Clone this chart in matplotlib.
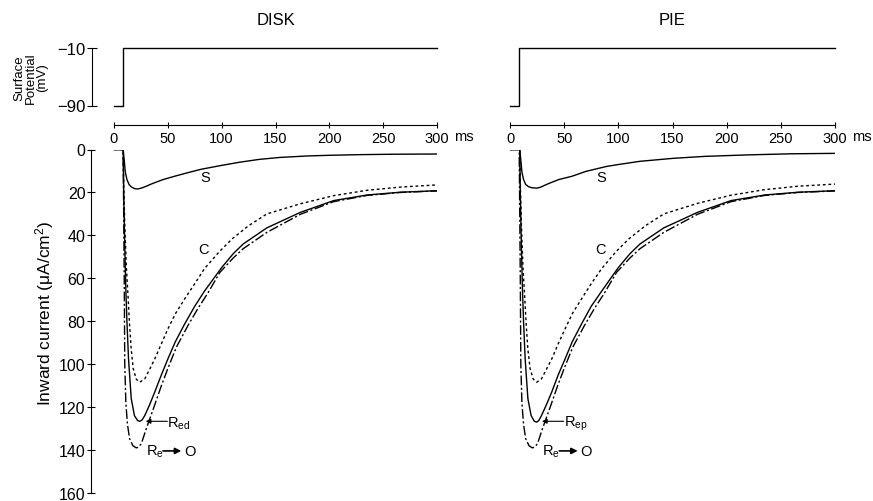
import matplotlib
matplotlib.use("Agg")
import matplotlib.pyplot as plt

plt.rcParams['font.family'] = ['Liberation Sans', 'DejaVu Sans']
plt.rcParams['mathtext.fontset'] = 'custom'
plt.rcParams['mathtext.rm'] = 'Liberation Sans'
plt.rcParams['mathtext.it'] = 'Liberation Sans'

# ---------------- data ----------------
panel_titles = ["DISK", "PIE"]
time_ticks = [0, 50, 100, 150, 200, 250, 300]
volt_ticks = [-90, -10]
curr_ticks = [0, 20, 40, 60, 80, 100, 120, 140, 160]

# voltage step (ms, mV)
volt_t = [0, 8.7, 8.7, 300]
volt_v = [-90, -90, -10, -10]

# DISK currents (uA/cm^2, inward plotted downwards)
disk_S_t = [0, 8.5, 9.5, 10.5, 12, 14, 16, 19, 22, 26, 30, 35, 45, 56, 70, 81, 100, 117, 135, 154, 180, 200, 228, 260, 300]
disk_S_v = [0, 0, 5, 10.5, 14, 16.3, 17.4, 18.2, 18.4, 17.9, 17.1, 16.0, 14.1, 12.5, 10.6, 9.2, 7.4, 5.9, 4.6, 3.7, 3.0, 2.7, 2.4, 2.2, 2.1]

disk_C_t = [0, 8.5, 9, 10, 11.5, 13, 14.5, 16, 17.8, 20.7, 23.8, 28.5, 33, 37.8, 44, 50, 57, 65.6, 75, 84, 98, 110, 125, 142, 173, 204, 235, 266, 300]
disk_C_v = [0, 0, 15, 35, 55, 68, 82, 93, 102, 107, 108.4, 106.9, 102.5, 97.6, 90.5, 83.6, 76.5, 69.6, 62.5, 55.5, 47.5, 41.5, 35.5, 30, 25.3, 21.5, 19.0, 17.5, 16.5]

disk_R_t = [0, 8.5, 9, 10, 11, 12, 13.5, 16, 19, 22, 24, 26, 28.5, 33, 37.8, 44, 50, 57, 65.6, 75, 84, 100, 110.8, 120, 142, 173, 204, 235, 266, 300]
disk_R_v = [0, 0, 20, 45, 65, 80, 97.6, 116, 124, 126.3, 126.6, 126, 124, 119, 113, 105, 97.6, 89.5, 81.3, 73, 66, 55, 48.5, 44, 36.5, 29.3, 23.8, 21.2, 19.9, 19.2]

disk_E_t = [0, 8.5, 9, 9.5, 10, 11, 12.5, 14.5, 17.6, 20.7, 23, 25.4, 30, 37.8, 44, 50, 58, 68.7, 78, 87, 98.4, 110.8, 120, 142, 173, 204, 235, 266, 300]
disk_E_v = [0, 0, 30, 60, 100, 118, 128, 134.8, 138, 139, 138.5, 137, 130, 119, 110, 102, 92, 82, 74, 67, 57.2, 50.5, 46.2, 38.6, 30.2, 24.3, 21.4, 20, 19.3]

# PIE currents
pie_S_t = [0, 9, 10, 11, 12.5, 14.5, 17, 20, 24.6, 28, 35, 45, 57, 70, 89, 100, 120, 151, 180, 220, 260, 300]
pie_S_v = [0, 0, 5, 10.5, 14, 16.3, 17.3, 17.8, 18.0, 17.6, 16.0, 14.0, 12.5, 10.2, 7.9, 7.0, 5.5, 4.1, 3.2, 2.5, 2.0, 1.8]

pie_C_t = [0, 9, 9.5, 10.5, 12, 13.5, 15, 16.5, 18.5, 21.5, 24.6, 29, 33.5, 38.5, 44.5, 50.8, 57.5, 66, 75, 84.6, 98, 110, 125, 142, 173, 204, 235, 266, 300]
pie_C_v = [0, 0, 15, 35, 55, 68, 82, 93, 102, 107, 108.4, 106.9, 102.5, 97.6, 90.5, 83.6, 76.5, 69.6, 62.5, 55.5, 47.5, 41.5, 35.5, 30, 25.1, 21.3, 18.7, 17.1, 16.1]

pie_R_t = [0, 9, 9.5, 10.5, 11.5, 12.5, 14, 16.5, 19.5, 22.5, 24.6, 26.5, 29, 33.5, 38.5, 44.5, 50.8, 57.5, 66, 75, 84.6, 100, 110.8, 120, 142, 173, 204, 235, 266, 300]
pie_R_v = [0, 0, 20, 45, 65, 80, 97.6, 116, 124, 126.6, 127, 126.3, 124, 119, 113, 105, 97.6, 89.5, 81.3, 73, 66, 55, 48.5, 44, 36.5, 29.3, 23.8, 21.2, 19.9, 19.2]

pie_E_t = disk_E_t
pie_E_v = disk_E_v

panels = [
    dict(S=(disk_S_t, disk_S_v), C=(disk_C_t, disk_C_v), R=(disk_R_t, disk_R_v), E=(disk_E_t, disk_E_v),
         rlabel=r'R$_{\mathregular{ed}}$'),
    dict(S=(pie_S_t, pie_S_v), C=(pie_C_t, pie_C_v), R=(pie_R_t, pie_R_v), E=(pie_E_t, pie_E_v),
         rlabel=r'R$_{\mathregular{ep}}$'),
]

# ---------------- layout ----------------
W, H = 873, 502
fig = plt.figure(figsize=(W / 100, H / 100), dpi=100)


def rect(x0, y_top, w, y_bot):
    return [x0 / W, 1 - y_bot / H, w / W, (y_bot - y_top) / H]


lefts = [114, 510]
widths = [323, 325]
ms_x = [464, 862]
px2pt = 0.72
lw = 1.0

for i, p in enumerate(panels):
    x0, w = lefts[i], widths[i]
    # voltage axes
    axv = fig.add_axes(rect(x0, 49, w, 106.5))
    axv.plot(volt_t, volt_v, color='black', lw=lw, clip_on=False)
    axv.set_xlim(0, 300)
    axv.set_ylim(-90, -10)
    axv.patch.set_visible(False)
    for s in ['top', 'right']:
        axv.spines[s].set_visible(False)
    axv.spines['bottom'].set_position(('outward', 19.5 * px2pt))
    axv.spines['bottom'].set_linewidth(0.8)
    axv.set_xticks(time_ticks)
    axv.set_xticklabels([str(t) for t in time_ticks])
    axv.tick_params(axis='x', direction='inout', length=5, width=0.8, labelsize=10.5, pad=2)
    if i == 0:
        axv.spines['left'].set_position(('outward', (114 - 92) * px2pt))
        axv.spines['left'].set_linewidth(0.8)
        axv.set_yticks(volt_ticks)
        axv.set_yticklabels(['\u221290', '\u221210'])
        axv.tick_params(axis='y', direction='inout', length=7, width=0.8, labelsize=12, pad=1)
    else:
        axv.spines['left'].set_visible(False)
        axv.set_yticks([])
    axv.set_title(panel_titles[i], fontsize=12, pad=17)
    fig.text(ms_x[i] / W, 1 - 137 / H, 'ms', fontsize=10.5, ha='center', va='center')

    # current axes
    axc = fig.add_axes(rect(x0, 150.5, w, 494))
    axc.patch.set_visible(False)
    tS, vS = p['S']
    tC, vC = p['C']
    tR, vR = p['R']
    tE, vE = p['E']
    axc.plot(tS, vS, color='black', lw=lw)
    axc.plot(tC, vC, color='black', lw=lw, linestyle=(0, (2.0, 2.0)))
    axc.plot(tR, vR, color='black', lw=lw)
    axc.plot(tE, vE, color='black', lw=lw, linestyle=(0, (7, 1.8, 1.5, 1.8)))
    axc.set_xlim(0, 300)
    axc.set_ylim(160, 0)
    for s in ['top', 'right', 'bottom']:
        axc.spines[s].set_visible(False)
    axc.set_xticks([])
    if i == 0:
        axc.spines['left'].set_position(('outward', (114 - 91) * px2pt))
        axc.spines['left'].set_linewidth(0.8)
        axc.set_yticks(curr_ticks)
        axc.tick_params(axis='y', direction='inout', length=6, width=0.8, labelsize=11.5, pad=1)
    else:
        axc.spines['left'].set_visible(False)
        axc.set_yticks([])

    # labels on curves
    axc.text(84.5, 12.8, 'S', fontsize=10.5, ha='center', va='center')
    axc.text(83.5, 46.3, 'C', fontsize=10.5, ha='center', va='center')
    axc.annotate('', xy=(29.5, 126.6), xytext=(49.5, 126.6),
                 arrowprops=dict(arrowstyle='-|>', color='black', lw=0.8,
                                 mutation_scale=7, shrinkA=0, shrinkB=0))
    axc.text(49.5, 127.5, p['rlabel'], fontsize=10.5, ha='left', va='center')
    axc.text(29.5, 140.4, r'R$_{\mathregular{e}}$', fontsize=10.5, ha='left', va='center')
    axc.annotate('', xy=(62.5, 140.4), xytext=(45.5, 140.4),
                 arrowprops=dict(arrowstyle='-|>', color='black', lw=1.2,
                                 mutation_scale=9, shrinkA=0, shrinkB=0))
    axc.text(65, 140.4, 'O', fontsize=10.5, ha='left', va='center')

fig.text(31 / W, 1 - 78 / H, 'Surface\nPotential\n(mV)', rotation=90, fontsize=9.5,
         ha='center', va='center', linespacing=0.95)
fig.text(45 / W, 1 - 313 / H, 'Inward current (\u03bcA/cm$^{2}$)', rotation=90, fontsize=12.5,
         ha='center', va='center')

fig.savefig('out.png', dpi=100)
